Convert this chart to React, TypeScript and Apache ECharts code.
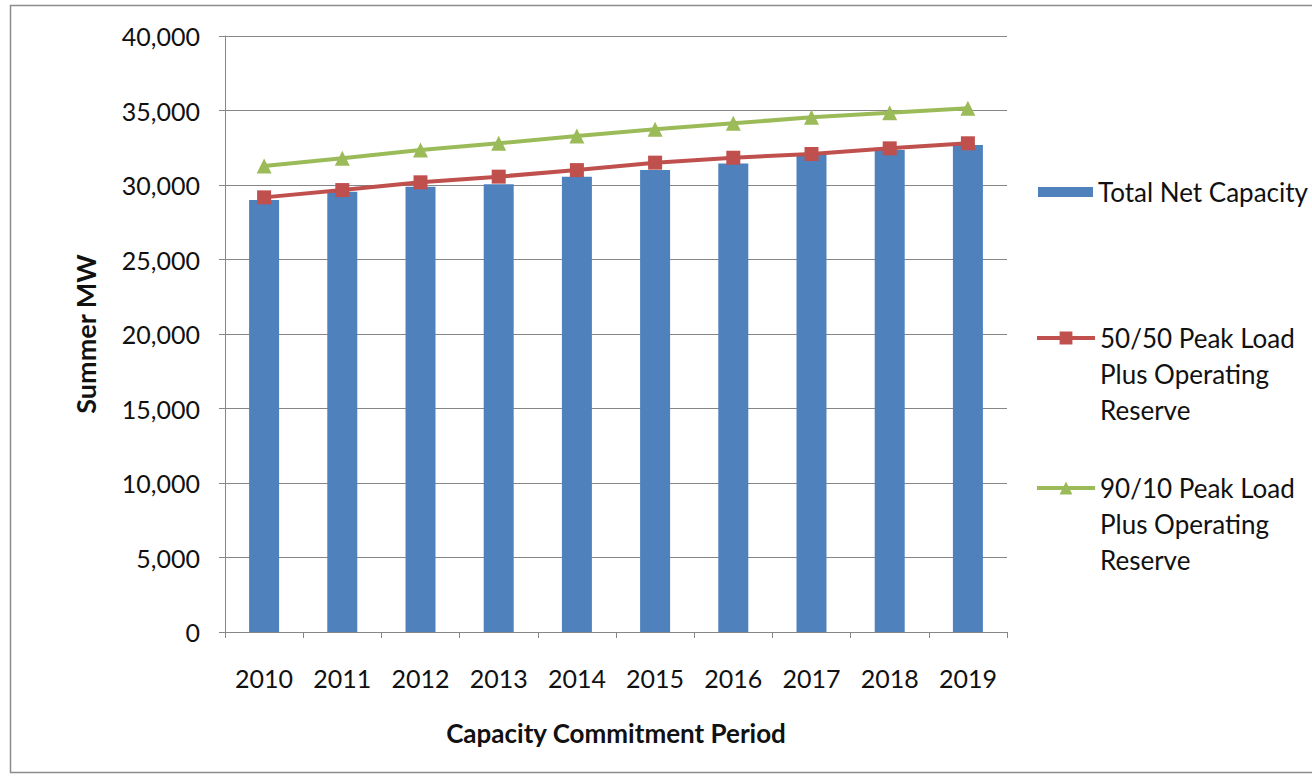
import React, { useEffect, useRef } from "react";
import * as echarts from "echarts";

const categories = ["2010", "2011", "2012", "2013", "2014", "2015", "2016", "2017", "2018", "2019"];
const totalNetCapacity = [28990, 29550, 29890, 30050, 30560, 31000, 31450, 32010, 32350, 32680];
const peak5050 = [29170, 29660, 30180, 30560, 31000, 31500, 31830, 32080, 32460, 32800];
const peak9010 = [31270, 31790, 32350, 32800, 33290, 33740, 34140, 34540, 34850, 35150];
const yTicks = { min: 0, max: 40000, interval: 5000 };

const FONT = "Lato, 'Liberation Sans', sans-serif";

export default function App() {
  const ref = useRef<HTMLDivElement>(null);
  useEffect(() => {
    if (!ref.current) return;
    const chart = echarts.init(ref.current, null, { renderer: "svg" });
    const legendText = {
      fontFamily: FONT,
      fontSize: 26,
      color: "#111",
      lineHeight: 36,
    };
    chart.setOption({
      animation: false,
      backgroundColor: "#ffffff",
      graphic: [
        {
          type: "rect",
          shape: { x: 10.5, y: 5.5, width: 1320, height: 767 },
          style: { fill: "none", stroke: "#8c8c8c", lineWidth: 1.5 },
          silent: true,
        },
      ],
      grid: { left: 225, right: 305, top: 36, bottom: 147, containLabel: false },
      legend: [
        {
          data: ["Total Net Capacity"],
          left: 1038,
          top: 174,
          padding: 0,
          itemWidth: 55,
          itemHeight: 10,
          selectedMode: false,
          icon: "rect",
          textStyle: legendText,
        },
        {
          data: ["50/50 Peak Load Plus Operating Reserve"],
          left: 1035,
          top: 248,
          padding: 0,
          itemWidth: 58,
          itemHeight: 16,
          selectedMode: false,
          lineStyle: { width: 4 },
          formatter: () => "\n\n50/50 Peak Load\nPlus Operating\nReserve",
          textStyle: legendText,
        },
        {
          data: ["90/10 Peak Load Plus Operating Reserve"],
          left: 1035,
          top: 398,
          padding: 0,
          itemWidth: 58,
          itemHeight: 16,
          selectedMode: false,
          lineStyle: { width: 4 },
          formatter: () => "\n\n90/10 Peak Load\nPlus Operating\nReserve",
          textStyle: legendText,
        },
      ],
      xAxis: {
        type: "category",
        data: categories,
        boundaryGap: true,
        name: "Capacity Commitment Period",
        nameLocation: "middle",
        nameGap: 88,
        nameTextStyle: { fontFamily: FONT, fontSize: 26, fontWeight: "bold", color: "#111" },
        axisLine: { show: true, lineStyle: { color: "#868686", width: 1 } },
        axisTick: { show: true, alignWithLabel: false, length: 6, lineStyle: { color: "#868686" } },
        axisLabel: { fontFamily: FONT, fontSize: 25, color: "#111", margin: 33 },
        splitLine: { show: false },
      },
      yAxis: {
        type: "value",
        min: yTicks.min,
        max: yTicks.max,
        interval: yTicks.interval,
        name: "Summer MW",
        nameLocation: "middle",
        nameGap: 126,
        nameRotate: 90,
        nameTextStyle: { fontFamily: FONT, fontSize: 27, fontWeight: "bold", color: "#111" },
        axisLine: { show: true, lineStyle: { color: "#868686", width: 1 } },
        axisTick: { show: true, inside: false, length: 6, lineStyle: { color: "#868686" } },
        axisLabel: {
          fontFamily: FONT,
          fontSize: 25,
          color: "#111",
          margin: 25,
          formatter: (v: number) => v.toLocaleString("en-US"),
        },
        splitLine: { show: true, lineStyle: { color: "#868686", width: 1 } },
      },
      series: [
        {
          name: "Total Net Capacity",
          type: "bar",
          data: totalNetCapacity,
          barWidth: 30,
          itemStyle: { color: "#4F81BD" },
        },
        {
          name: "50/50 Peak Load Plus Operating Reserve",
          type: "line",
          data: peak5050,
          symbol: "rect",
          symbolSize: 14,
          lineStyle: { color: "#C0504D", width: 4 },
          itemStyle: { color: "#C0504D" },
        },
        {
          name: "90/10 Peak Load Plus Operating Reserve",
          type: "line",
          data: peak9010,
          symbol: "triangle",
          symbolSize: 15,
          lineStyle: { color: "#9BBB59", width: 4 },
          itemStyle: { color: "#9BBB59" },
        },
      ],
    });
    return () => chart.dispose();
  }, []);
  return (
    <div
      ref={ref}
      style={{ position: "absolute", left: 0, top: 0, width: 1312, height: 779 }}
    />
  );
}
